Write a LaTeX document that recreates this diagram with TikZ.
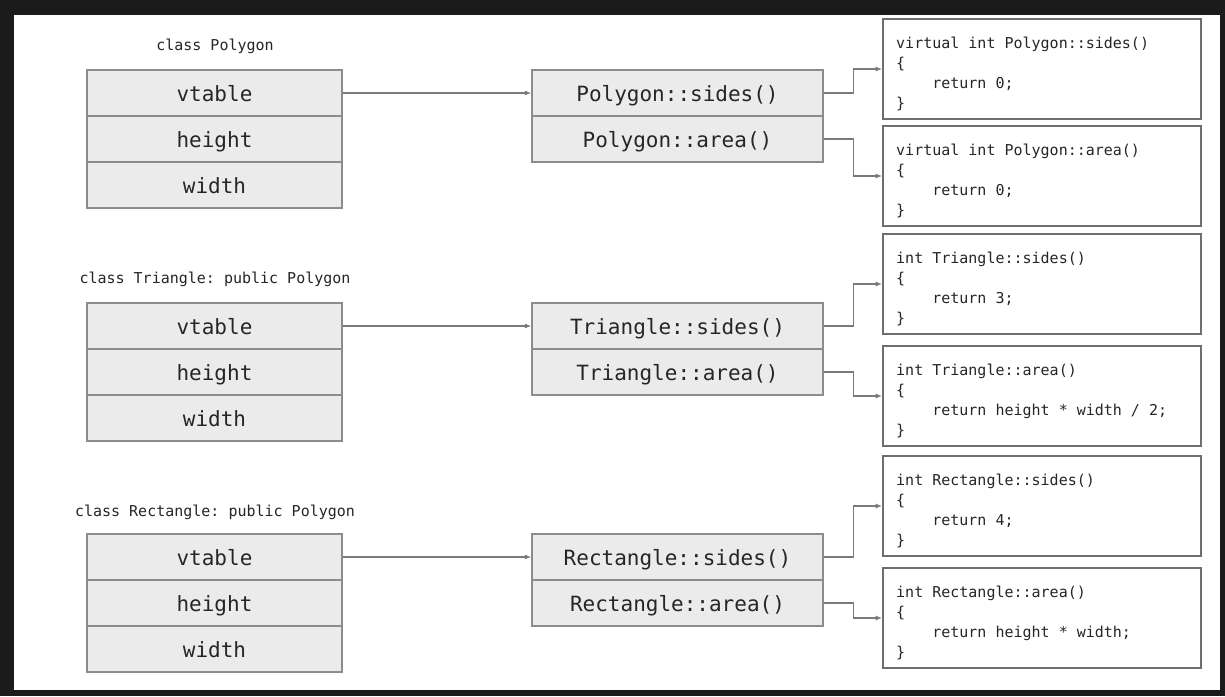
\documentclass[tikz,border=0pt]{standalone}
\usepackage{fontspec}
\usepackage{tikz}
\usetikzlibrary{arrows.meta}

\newfontfamily\codefont{DejaVu Sans Mono}
\newcommand{\bigmono}{\codefont\fontsize{21}{25}\selectfont}
\newcommand{\smallmono}{\codefont\fontsize{15}{20}\selectfont}
\newcommand{\ind}{\hphantom{0000}}
\frenchspacing

\definecolor{boxfill}{HTML}{EBEBEB}
\definecolor{boxline}{HTML}{8C8C8C}
\definecolor{codeline}{HTML}{6E6E6E}
\definecolor{ink}{HTML}{262626}
\definecolor{linkgray}{HTML}{7A7A7A}
\definecolor{frame}{HTML}{1B1B1B}

\tikzset{
    field/.style={draw=boxline, fill=boxfill, line width=1.2pt, minimum width=255pt,
        minimum height=46pt, inner sep=0pt, text height=16.5pt, text depth=0pt,
        font=\bigmono, text=ink},
    slot/.style={field, minimum width=291pt},
    codebox/.style={draw=codeline, line width=1.6pt, minimum width=318pt,
        minimum height=100pt, inner sep=0pt},
    codetext/.style={anchor=north west, align=left, inner sep=0pt, font=\smallmono, text=ink},
    classlabel/.style={anchor=base, inner sep=0pt, font=\smallmono, text=ink},
    link/.style={draw=linkgray, line width=1.2pt, -{Latex[length=6.5pt,width=5pt]}}
}

\begin{document}
\begin{tikzpicture}[x=1pt, y=-1pt]
        % frame
        \fill[frame] (0, 0) rectangle (1225, 696);
        \fill[white] (14, 15) rectangle (1220, 690);

        % objects
        \node[classlabel] (plabel) at (215, 50) {class Polygon};
        \node[field] (pvt) at (214.5, 93) {vtable};
        \node[field] (pht) at (214.5, 139) {height};
        \node[field] (pwd) at (214.5, 185) {width};

        \node[classlabel] (tlabel) at (215, 283) {class Triangle: public Polygon};
        \node[field] (tvt) at (214.5, 326) {vtable};
        \node[field] (tht) at (214.5, 372) {height};
        \node[field] (twd) at (214.5, 418) {width};

        \node[classlabel] (rlabel) at (215, 516) {class Rectangle: public Polygon};
        \node[field] (rvt) at (214.5, 557) {vtable};
        \node[field] (rht) at (214.5, 603) {height};
        \node[field] (rwd) at (214.5, 649) {width};

        % vtables
        \node[slot] (psides) at (677.5, 93) {Polygon::sides()};
        \node[slot] (parea) at (677.5, 139) {Polygon::area()};
        \node[slot] (tsides) at (677.5, 326) {Triangle::sides()};
        \node[slot] (tarea) at (677.5, 372) {Triangle::area()};
        \node[slot] (rsides) at (677.5, 557) {Rectangle::sides()};
        \node[slot] (rarea) at (677.5, 603) {Rectangle::area()};

        % method bodies
        \node[codebox] (pcsides) at (1042, 69) {};
        \node[codetext] (pcsidestxt) at (896, 34) {\strut virtual int Polygon::sides()\\{\char`\{}\\\ind return 0;\\{\char`\}}};
        \node[codebox] (pcarea) at (1042, 176) {};
        \node[codetext] (pcareatxt) at (896, 141) {\strut virtual int Polygon::area()\\{\char`\{}\\\ind return 0;\\{\char`\}}};

        \node[codebox] (tcsides) at (1042, 284) {};
        \node[codetext] (tcsidestxt) at (896, 249) {\strut int Triangle::sides()\\{\char`\{}\\\ind return 3;\\{\char`\}}};
        \node[codebox] (tcarea) at (1042, 396) {};
        \node[codetext] (tcareatxt) at (896, 361) {\strut int Triangle::area()\\{\char`\{}\\\ind return height * width / 2;\\{\char`\}}};

        \node[codebox] (rcsides) at (1042, 506) {};
        \node[codetext] (rcsidestxt) at (896, 471) {\strut int Rectangle::sides()\\{\char`\{}\\\ind return 4;\\{\char`\}}};
        \node[codebox] (rcarea) at (1042, 618) {};
        \node[codetext] (rcareatxt) at (896, 583) {\strut int Rectangle::area()\\{\char`\{}\\\ind return height * width;\\{\char`\}}};

        % pointers
        \draw[link] (pvt.east) -- (psides.west);
        \draw[link] (tvt.east) -- (tsides.west);
        \draw[link] (rvt.east) -- (rsides.west);

        \draw[link] (psides.east) -- ++(30, 0) |- (pcsides.west);
        \draw[link] (parea.east) -- ++(30, 0) |- (pcarea.west);
        \draw[link] (tsides.east) -- ++(30, 0) |- (tcsides.west);
        \draw[link] (tarea.east) -- ++(30, 0) |- (tcarea.west);
        \draw[link] (rsides.east) -- ++(30, 0) |- (rcsides.west);
        \draw[link] (rarea.east) -- ++(30, 0) |- (rcarea.west);
    \end{tikzpicture}
\end{document}
